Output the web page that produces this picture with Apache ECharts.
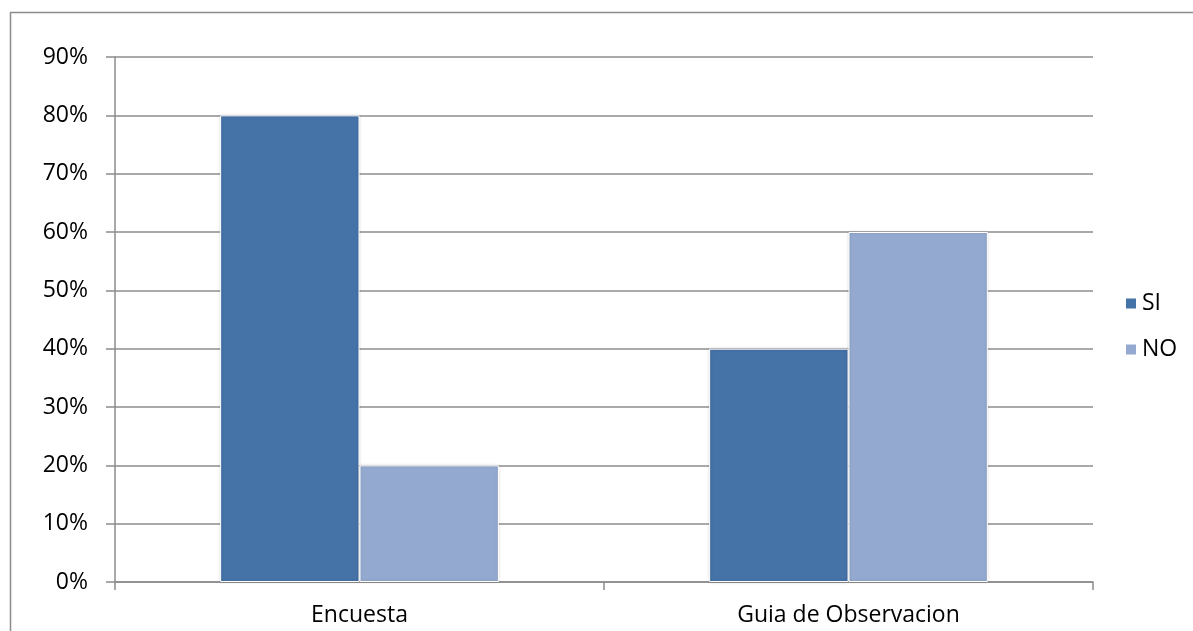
<!DOCTYPE html>
<html>
<head>
<meta charset="utf-8">
<script src="https://cdn.jsdelivr.net/npm/echarts@6/dist/echarts.min.js"></script>
<style>
  html, body { margin: 0; padding: 0; background: #fff; }
  #chart { width: 1193px; height: 631px; }
</style>
</head>
<body>
<div id="chart"></div>
<script>
// Categories and series values (percent)
const categories = ['Encuesta', 'Guia de Observacion'];
const siValues = [80, 40];
const noValues = [20, 60];
const yTicks = { min: 0, max: 90, interval: 10 };

const FONT = '"Open Sans", sans-serif';
const chart = echarts.init(document.getElementById('chart'));

chart.setOption({
  animation: false,
  backgroundColor: '#ffffff',
  graphic: [{
    type: 'rect',
    shape: { x: 10.5, y: 12.5, width: 1300, height: 700 },
    style: { fill: 'none', stroke: '#8c8c8c', lineWidth: 1.5 },
    silent: true
  }],
  grid: { left: 115, right: 100, top: 57, bottom: 49 },
  legend: {
    orient: 'vertical',
    left: 1124,
    top: 292,
    padding: 0,
    itemWidth: 12,
    itemHeight: 12,
    itemGap: 23,
    icon: 'rect',
    textStyle: { fontFamily: FONT, fontSize: 23, color: '#000' },
    data: ['SI', 'NO']
  },
  xAxis: {
    type: 'category',
    data: categories,
    axisLine: { lineStyle: { color: '#8c8c8c', width: 1.5 } },
    axisTick: { show: true, length: 8, lineStyle: { color: '#8c8c8c', width: 1.5 } },
    axisLabel: { fontFamily: FONT, fontSize: 23, color: '#000', margin: 22 }
  },
  yAxis: {
    type: 'value',
    min: yTicks.min,
    max: yTicks.max,
    interval: yTicks.interval,
    axisLine: { show: true, lineStyle: { color: '#8c8c8c', width: 1.5 } },
    axisTick: { show: true, length: 9, lineStyle: { color: '#8c8c8c', width: 1.5 } },
    axisLabel: { fontFamily: FONT, fontSize: 23, color: '#000', margin: 27, formatter: '{value}%' },
    splitLine: { show: true, lineStyle: { color: '#8c8c8c', width: 1.5 } }
  },
  series: [
    {
      name: 'SI',
      type: 'bar',
      data: siValues,
      barGap: '0%',
      barCategoryGap: '43%',
      itemStyle: {
        color: '#4572A7',
        borderColor: '#ffffff',
        borderWidth: 1,
        shadowColor: 'rgba(0,0,0,0.18)',
        shadowBlur: 3
      }
    },
    {
      name: 'NO',
      type: 'bar',
      data: noValues,
      itemStyle: {
        color: '#93A9CF',
        borderColor: '#ffffff',
        borderWidth: 1,
        shadowColor: 'rgba(0,0,0,0.18)',
        shadowBlur: 3
      }
    }
  ]
});
</script>
</body>
</html>
